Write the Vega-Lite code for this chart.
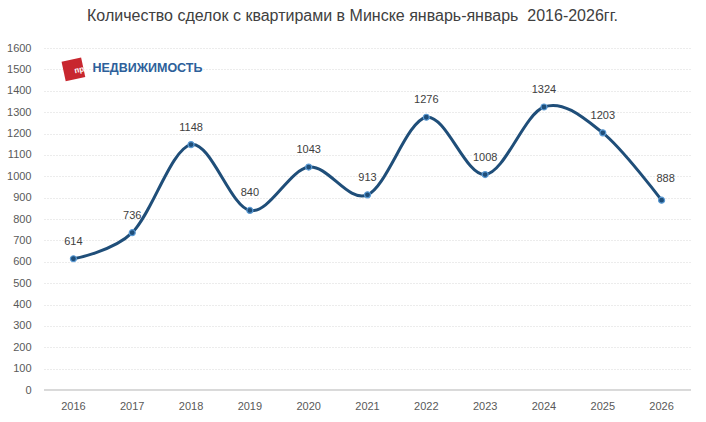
{
  "$schema": "https://vega.github.io/schema/vega-lite/v6.json",
  "autosize": "none",
  "width": 647,
  "height": 342,
  "padding": {"left": 44, "top": 48, "right": 15, "bottom": 32},
  "background": "white",
  "title": {
    "text": "Количество сделок с квартирами в Минске январь-январь \u00a02016-2026гг.",
    "font": "Liberation Sans",
    "fontSize": 16,
    "fontWeight": "normal",
    "color": "#404040",
    "anchor": "middle",
    "dx": -15,
    "offset": 18
  },
  "data": {
    "values": [
      {"year": "2016", "deals": 614},
      {"year": "2017", "deals": 736},
      {"year": "2018", "deals": 1148},
      {"year": "2019", "deals": 840},
      {"year": "2020", "deals": 1043},
      {"year": "2021", "deals": 913},
      {"year": "2022", "deals": 1276},
      {"year": "2023", "deals": 1008},
      {"year": "2024", "deals": 1324},
      {"year": "2025", "deals": 1203},
      {"year": "2026", "deals": 888}
    ]
  },
  "encoding": {
    "x": {
      "field": "year",
      "type": "ordinal",
      "title": null,
      "scale": {"type": "band", "paddingInner": 0, "paddingOuter": 0},
      "axis": {
        "labelAngle": 0,
        "ticks": false,
        "domain": false,
        "grid": false,
        "labelPadding": 10,
        "labelFont": "Liberation Sans",
        "labelFontSize": 11,
        "labelColor": "#595959"
      }
    },
    "y": {
      "field": "deals",
      "type": "quantitative",
      "title": null,
      "scale": {"domain": [0, 1600]},
      "axis": {
        "values": [0, 100, 200, 300, 400, 500, 600, 700, 800, 900, 1000, 1100, 1200, 1300, 1400, 1500, 1600],
        "format": "d",
        "ticks": false,
        "domain": false,
        "labelPadding": 13,
        "labelFont": "Liberation Sans",
        "labelFontSize": 11,
        "labelColor": "#595959",
        "gridColor": "#d9d9d9",
        "gridDash": [1, 2],
        "gridWidth": 1
      }
    }
  },
  "layer": [
    {
      "mark": {"type": "rule", "color": "#d9d9d9", "strokeWidth": 1},
      "encoding": {
        "x": {"value": 0},
        "x2": {"value": 647},
        "y": {"datum": 0}
      }
    },
    {
      "mark": {"type": "line", "interpolate": "cardinal", "color": "#1F4E79", "strokeWidth": 3}
    },
    {
      "mark": {"type": "point", "filled": true, "size": 36, "fill": "#1F4E79", "stroke": "#5B9BD5", "strokeWidth": 1.2, "opacity": 1}
    },
    {
      "transform": [{"filter": "datum.year != '2026'"}],
      "mark": {"type": "text", "dy": -17, "font": "Liberation Sans", "fontSize": 11, "color": "#404040"},
      "encoding": {"text": {"field": "deals", "type": "quantitative"}}
    },
    {
      "transform": [{"filter": "datum.year == '2026'"}],
      "mark": {"type": "text", "dx": 4, "dy": -21, "font": "Liberation Sans", "fontSize": 11, "color": "#404040"},
      "encoding": {"text": {"field": "deals", "type": "quantitative"}}
    },
    {
      "data": {"values": [{"year": "2016", "deals": 1500}]},
      "mark": {"type": "square", "size": 400, "color": "#C8272F", "opacity": 1, "angle": -12, "dx": 8, "dy": 2},
      "encoding": {"x": {"field": "year", "type": "ordinal"}, "y": {"field": "deals", "type": "quantitative"}}
    },
    {
      "data": {"values": [{"year": "2016", "deals": 1500, "t": "про"}]},
      "mark": {"type": "text", "font": "Liberation Sans", "fontSize": 8, "fontWeight": "bold", "color": "white", "dx": 8, "dy": 2, "angle": -12, "align": "center", "baseline": "middle"},
      "encoding": {"x": {"field": "year", "type": "ordinal"}, "y": {"field": "deals", "type": "quantitative"}, "text": {"field": "t"}}
    },
    {
      "data": {"values": [{"year": "2016", "deals": 1500, "t": "НЕДВИЖИМОСТЬ"}]},
      "mark": {"type": "text", "align": "left", "font": "Liberation Sans", "fontSize": 12.5, "fontWeight": "bold", "color": "#2D5F9A", "dx": 19, "dy": -1},
      "encoding": {"x": {"field": "year", "type": "ordinal"}, "y": {"field": "deals", "type": "quantitative"}, "text": {"field": "t"}}
    }
  ],
  "config": {"view": {"stroke": null}}
}
